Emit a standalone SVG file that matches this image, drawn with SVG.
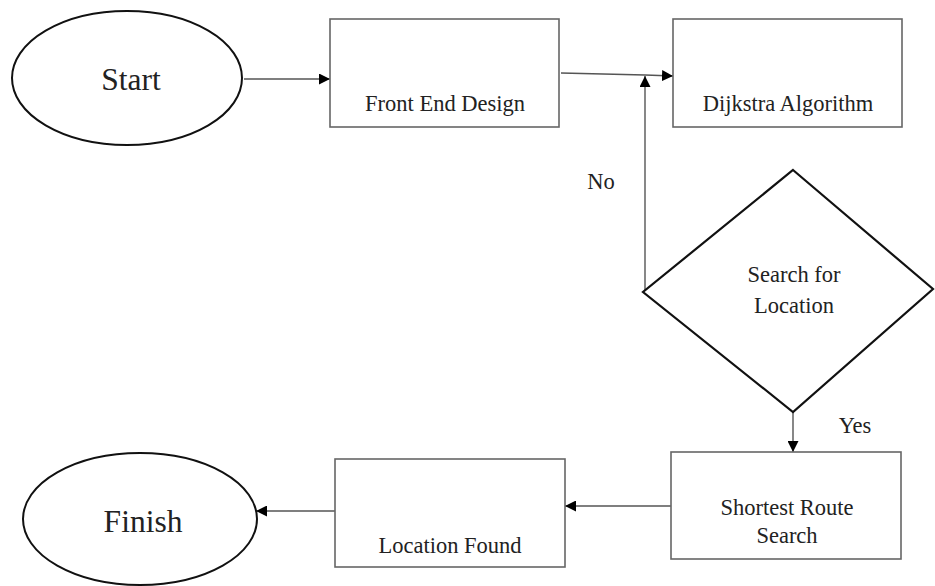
<svg xmlns="http://www.w3.org/2000/svg" width="935" height="586" viewBox="0 0 935 586">
<style>
.term{fill:#fff;stroke:#111;stroke-width:2}
.box{fill:#fff;stroke:#666;stroke-width:1.6}
.dec{fill:#fff;stroke:#111;stroke-width:2.2}
.t{font-family:"Liberation Serif","Times New Roman",serif;fill:#222;text-anchor:middle;font-size:22.5px}
.big{font-size:31.5px}
.conn{stroke:#555;stroke-width:1.4;fill:none;marker-end:url(#ah)}
</style>
<defs>
<marker id="ah" viewBox="0 0 10 10" refX="10" refY="5" markerWidth="11" markerHeight="11" markerUnits="userSpaceOnUse" orient="auto">
<path d="M0,0 L10,5 L0,10 Z" fill="#000"/>
</marker>
</defs>
<rect width="935" height="586" fill="#fff"/>
<g id="connectors">
<line class="conn" x1="244" y1="79" x2="330" y2="79"/>
<polyline class="conn" points="561,73 645,75 673,76"/>
<line class="conn" x1="645" y1="292" x2="645" y2="76"/>
<line class="conn" x1="793" y1="412" x2="793" y2="452"/>
<line class="conn" x1="671" y1="506" x2="565" y2="506"/>
<line class="conn" x1="335" y1="511" x2="256" y2="511"/>
<text class="t" x="601" y="189">No</text>
<text class="t" x="855" y="433">Yes</text>
</g>
<g id="start">
<ellipse class="term" cx="127" cy="78" rx="115" ry="67"/>
<text class="t big" x="131" y="90">Start</text>
</g>
<g id="frontend">
<rect class="box" x="330" y="19" width="229" height="108"/>
<text class="t" x="445" y="111">Front End Design</text>
</g>
<g id="dijkstra">
<rect class="box" x="673" y="19" width="229" height="108"/>
<text class="t" x="788" y="111">Dijkstra Algorithm</text>
</g>
<g id="search">
<polygon class="dec" points="793,170 933,289 793,412 643,292"/>
<text class="t" x="794" y="282">Search for</text>
<text class="t" x="794" y="313">Location</text>
</g>
<g id="shortest">
<rect class="box" x="671" y="452" width="230" height="107"/>
<text class="t" x="787" y="515">Shortest Route</text>
<text class="t" x="787" y="543">Search</text>
</g>
<g id="found">
<rect class="box" x="335" y="459" width="230" height="108"/>
<text class="t" x="450" y="553">Location Found</text>
</g>
<g id="finish">
<ellipse class="term" cx="140" cy="519" rx="117" ry="66"/>
<text class="t big" x="143" y="532">Finish</text>
</g>
</svg>
